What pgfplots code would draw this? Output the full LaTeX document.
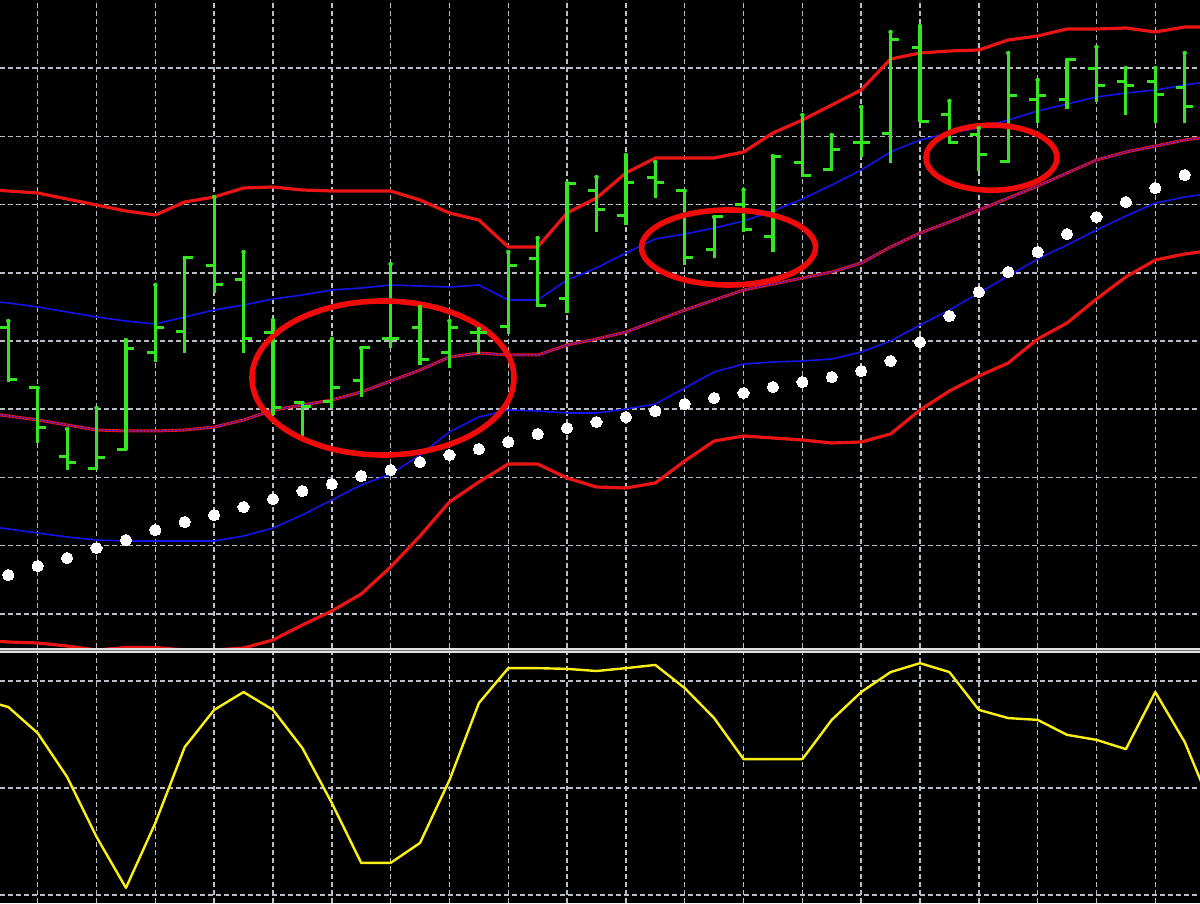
\documentclass[border=0pt]{standalone}
\usepackage{pgfplots}
\usepackage{pgfplotstable}
\pgfplotsset{compat=1.18}
\definecolor{bargreen}{RGB}{55,230,35}
\definecolor{bandred}{RGB}{235,20,20}
\definecolor{bandblue}{RGB}{20,20,235}
\definecolor{gridgray}{RGB}{185,190,198}
\definecolor{oscyellow}{RGB}{250,240,20}
\definecolor{ellred}{RGB}{240,10,10}

\pgfdeclareplotmark{otick}{\pgfpathmoveto{\pgfqpoint{-8.5pt}{0pt}}\pgfpathlineto{\pgfqpoint{1.5pt}{0pt}}\pgfusepathqstroke}
\pgfdeclareplotmark{ctick}{\pgfpathmoveto{\pgfqpoint{-1.5pt}{0pt}}\pgfpathlineto{\pgfqpoint{8.5pt}{0pt}}\pgfusepathqstroke}

% OHLC bars (price units)
\pgfplotstableread{
i O H L C
0 322 329 268 270
1 262 262 207 222
2 193 221 180 187
3 181 242 180 192
4 200 310 200 301
5 297 365 288 322
6 318 392 297 392
7 384 453 357 365
8 370 398 297 311
9 317 330 235 242
10 247 247 212 243
11 248 311 242 262
12 269 302 253 302
13 311 386 302 311
14 322 343 285 290
15 297 329 282 322
16 317 321 296 317
17 323 398 316 384
18 391 412 344 344
19 351 467 337 466
20 459 473 418 440
21 434 495 425 467
22 472 488 452 467
23 459 459 385 392
24 400 433 392 433
25 445 460 418 420
26 413 494 398 493
27 487 535 474 474
28 480 515 480 500
29 507 543 493 507
30 516 618 487 610
31 602 624 528 528
32 535 549 507 507
33 515 522 479 495
34 488 597 487 554
35 550 570 527 554
36 550 590 541 590
37 581 603 548 564
38 568 582 535 564
39 568 582 527 555
40 562 597 527 543
}\ohlc

% Bands, middle line, parabolic SAR
\pgfplotstableread{
i rup bup mid blo rlo sar
-1 461 350 238 125 10 66
0 459 347 234 121 8 75
1 457 343 230 117 7 84
2 451 338 225 113 4 92
3 445 333 220 110 0 102
4 439 329 219 109 2.5 110
5 435 326 219 109 2.5 120
6 448 333 220 109 0 128
7 453 340 223 109 0 135
8 462 345 230 114 2 143
9 463 351 240 122 10 151
10 460 355 245 135 25 159
11 459 360 250 150 39 166
12 459 362 258 165 56 174
13 459 365 269 176 83 180
14 450 364 280 195 114 188
15 437 363 293 218 148 195
16 430 365 297 233 168 201
17 403 350 295 240 186 208
18 403 350 295 239 186 216
19 437 370 305 237 172 222
20 452 382 311 237 163 228
21 477 397 318 241 162 233
22 492 411 329 246 167 239
23 492 416 340 262 189 246
24 492 422 350 278 209 252
25 498 429 360 286 214 257
26 517 439 366 288 212 263
27 530 451 372 289 210 268
28 545 465 378 291 207 273
29 560 480 387 298 208 279
30 591 498 403 309 216 289
31 597 510 417 325 240 308
32 599 517 428 340 259 334
33 600 522 440 357 274 358
34 610 530 452 374 287 378
35 614 539 464 391 311 398
36 621 546 477 405 327 416
37 621 553 490 420 351 433
38 622 557 498 434 373 448
39 618 560 504 447 390 462
40 623 565 510 453 396 475
41 623 569 514 457 400 488
}\bands

% Oscillator
\pgfplotstableread{
i v
-1 75.0
0 72.7
1 65.4
2 53.1
3 36.3
4 22.0
5 40.2
6 61.5
7 71.9
8 76.9
9 71.9
10 61.2
11 45.8
12 29.0
13 29.0
14 34.6
15 52.2
16 73.8
17 83.6
18 83.6
19 83.4
20 82.8
21 83.6
22 84.5
23 78.0
24 69.6
25 58.1
26 58.1
27 58.1
28 69.1
29 76.9
30 82.5
31 85.0
32 82.5
33 71.9
34 69.6
35 69.1
36 64.9
37 63.5
38 60.9
39 76.9
40 62.9
41 43.0
}\osc

\pgfplotsset{
  panel/.style={
    scale only axis,
    width=1200pt,
    xmin=-0.282, xmax=40.52,
    xtick={1,3,...,39},
    xticklabels={}, yticklabels={},
    major tick length=0pt,
    axis line style={draw=none},
    xmajorgrids, ymajorgrids,
    grid style={dash pattern=on 5pt off 3pt, line width=1.5pt, color=gridgray},
    axis background/.style={fill=black},
  }
}

\begin{document}
\begin{tikzpicture}
\fill[black] (0,0) rectangle (1200pt,903pt);

% top price panel
\begin{axis}[panel,
  at={(0pt,255pt)}, anchor=south west,
  height=648pt,
  ymin=2, ymax=650,
  ytick={36.2,104.4,172.6,240.8,309,377.2,445.4,513.6,581.8},
]
\addplot[bandred, line width=3.2pt, line join=round] table[x=i, y=rup] {\bands};
\addplot[bandred, line width=3.2pt, line join=round] table[x=i, y=rlo] {\bands};
\addplot[bandblue, line width=1.6pt, line join=round] table[x=i, y=bup] {\bands};
\addplot[bandblue, line width=1.6pt, line join=round] table[x=i, y=blo] {\bands};
\addplot[bandred, line width=3pt, line join=round] table[x=i, y=mid] {\bands};
\addplot[bandblue, line width=1.2pt, line join=round, dash pattern=on 2pt off 1.5pt] table[x=i, y=mid] {\bands};
\addplot[only marks, mark=*, mark size=5.6pt, mark options={fill=white, draw=white, line width=0pt}] table[x=i, y=sar] {\bands};
% high-low ranges
\addplot[bargreen, only marks, mark=none,
  error bars/.cd, y dir=minus, y explicit,
  error bar style={line width=3.2pt, color=bargreen}, error mark=none]
  table[x=i, y=H, y error expr=\thisrow{H}-\thisrow{L}] {\ohlc};
\addplot[bargreen, only marks, mark=otick, mark options={line width=3pt}] table[x=i, y=O] {\ohlc};
\addplot[bargreen, only marks, mark=ctick, mark options={line width=3pt}] table[x=i, y=C] {\ohlc};
% annotations
\draw[ellred, line width=5.6pt] (axis cs:12.74,272) ellipse [x radius=131pt, y radius=77pt];
\draw[ellred, line width=5.6pt] (axis cs:24.49,402.5) ellipse [x radius=87pt, y radius=37.5pt];
\draw[ellred, line width=5.6pt] (axis cs:33.43,492.3) ellipse [x radius=65.5pt, y radius=32.5pt];
\end{axis}

% separator
\fill[black!55] (0,250pt) rectangle (1200pt,254.5pt);
\draw[black!12, line width=1.4pt] (0,254pt) -- (1200pt,254pt);
\draw[black!12, line width=1.4pt] (0,250.8pt) -- (1200pt,250.8pt);

% oscillator panel
\begin{axis}[panel,
  at={(0pt,0pt)}, anchor=south west,
  height=250pt,
  ymin=17.76, ymax=87.85,
  ytick={20,50,80},
]
\addplot[oscyellow, line width=2.4pt, line join=round] table[x=i, y=v] {\osc};
\end{axis}

\pgfresetboundingbox
\useasboundingbox (0,0) rectangle (1200pt,903pt);
\end{tikzpicture}
\end{document}
